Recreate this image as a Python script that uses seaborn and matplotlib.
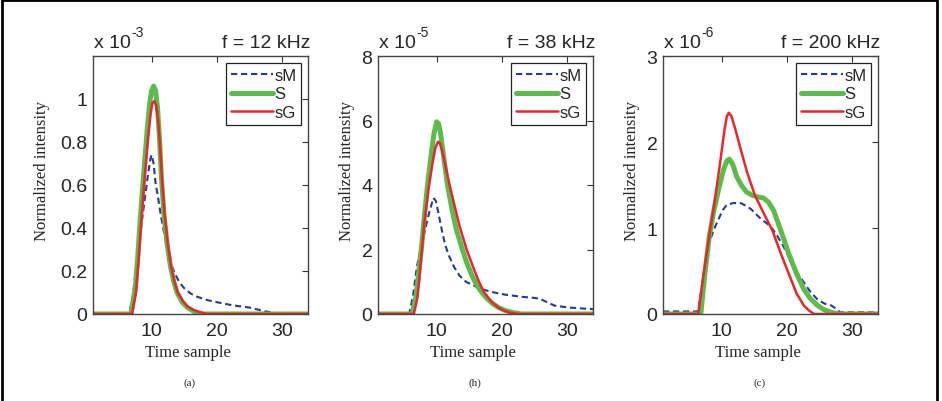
import numpy as np
import seaborn as sns
import matplotlib
matplotlib.use('Agg')
import matplotlib.pyplot as plt
from matplotlib.lines import Line2D

# panel (a), f = 12 kHz, values x 1e-3
a_sM_x = [1, 6.5, 7.0, 7.5, 8.1, 8.8, 9.4, 9.8, 10.0, 10.3, 10.6, 11.0, 11.4, 11.9, 12.4, 13.0, 13.7, 14.3, 15, 16, 17, 18.5, 20, 22.5, 25, 27.5, 30, 34]
a_sM_y = [0, 0, 0.06, 0.18, 0.34, 0.5, 0.64, 0.72, 0.74, 0.7, 0.61, 0.54, 0.46, 0.38, 0.30, 0.23, 0.18, 0.145, 0.12, 0.095, 0.08, 0.065, 0.055, 0.04, 0.03, 0.012, 0, 0]
a_S_x = [1, 6.8, 7.5, 7.9, 8.3, 8.8, 9.3, 9.7, 10.0, 10.3, 10.6, 10.9, 11.2, 11.5, 11.9, 12.4, 12.9, 13.4, 13.9, 14.7, 15.5, 16.5, 17.5, 34]
a_S_y = [0, 0, 0.12, 0.28, 0.46, 0.66, 0.85, 0.98, 1.04, 1.06, 1.04, 0.96, 0.82, 0.64, 0.46, 0.32, 0.22, 0.15, 0.1, 0.055, 0.03, 0.012, 0, 0]
a_sG_x = [1, 7.0, 7.6, 8.0, 8.4, 8.9, 9.4, 9.8, 10.1, 10.4, 10.7, 11.0, 11.3, 11.6, 12.0, 12.5, 13.0, 13.5, 14.0, 14.8, 15.5, 16.5, 17.5, 18.5, 34]
a_sG_y = [0, 0, 0.1, 0.25, 0.42, 0.62, 0.8, 0.92, 0.98, 0.99, 0.97, 0.9, 0.78, 0.62, 0.46, 0.32, 0.22, 0.15, 0.1, 0.06, 0.035, 0.018, 0.008, 0, 0]

# panel (b), f = 38 kHz, values x 1e-5
b_sM_x = [1, 5.8, 6.4, 7.0, 7.6, 8.1, 8.8, 9.5, 9.9, 10.3, 10.8, 11.3, 11.9, 12.7, 13.5, 14.5, 15.7, 16.8, 17.8, 19, 20.5, 23.2, 25.0, 25.9, 27.0, 28.1, 30.3, 34]
b_sM_y = [0, 0, 0.6, 1.5, 2.05, 2.5, 3.1, 3.6, 3.5, 3.1, 2.6, 2.15, 1.8, 1.45, 1.19, 1.0, 0.88, 0.78, 0.72, 0.66, 0.6, 0.53, 0.5, 0.47, 0.36, 0.26, 0.2, 0.15]
b_S_x = [1, 6.2, 6.8, 7.2, 7.7, 8.1, 8.6, 9.2, 9.6, 10.0, 10.3, 10.6, 11.1, 11.6, 12.3, 13.0, 13.8, 14.6, 15.4, 16.2, 17.0, 17.8, 18.6, 19.5, 20.5, 21.6, 23, 34]
b_S_y = [0, 0, 0.5, 1.2, 2.1, 3.0, 4.0, 5.0, 5.6, 5.96, 5.9, 5.6, 4.85, 4.08, 3.3, 2.64, 2.1, 1.6, 1.2, 0.88, 0.65, 0.47, 0.32, 0.2, 0.11, 0.05, 0, 0]
b_sG_x = [1, 6.5, 7.0, 7.3, 7.7, 8.1, 8.7, 9.3, 9.8, 10.2, 10.5, 10.8, 11.3, 11.9, 12.7, 13.5, 14.6, 15.7, 16.5, 17.3, 18.4, 19.5, 20.3, 21.1, 22, 23, 34]
b_sG_y = [0, 0, 0.45, 1.0, 1.9, 2.8, 3.8, 4.6, 5.15, 5.34, 5.3, 5.1, 4.65, 4.08, 3.4, 2.74, 2.0, 1.4, 1.0, 0.67, 0.38, 0.2, 0.11, 0.05, 0.015, 0, 0]

# panel (c), f = 200 kHz, values x 1e-6
c_sM_x = [1, 6.4, 7.2, 8.1, 8.8, 9.5, 10.2, 10.8, 11.8, 12.9, 13.7, 14.5, 15.3, 16.1, 17.0, 17.8, 18.6, 19.4, 20.2, 21, 21.8, 22.6, 23.6, 24.7, 25.8, 26.8, 27.4, 28.2, 34]
c_sM_y = [0.03, 0.03, 0.45, 0.83, 0.98, 1.1, 1.21, 1.27, 1.29, 1.29, 1.26, 1.22, 1.16, 1.1, 1.05, 0.99, 0.9, 0.8, 0.68, 0.56, 0.46, 0.37, 0.26, 0.17, 0.12, 0.1, 0.07, 0.02, 0.02]
c_S_x = [1, 6.8, 7.4, 8.1, 8.8, 9.6, 10.3, 10.8, 11.2, 11.7, 12.3, 13.0, 13.8, 14.7, 15.6, 16.4, 17.2, 18.0, 18.8, 19.6, 20.4, 21.5, 22.6, 23.6, 24.7, 25.7, 26.8, 28, 34]
c_S_y = [0, 0, 0.45, 0.9, 1.2, 1.47, 1.68, 1.78, 1.8, 1.74, 1.6, 1.5, 1.42, 1.38, 1.36, 1.35, 1.3, 1.2, 1.03, 0.86, 0.68, 0.47, 0.29, 0.18, 0.1, 0.05, 0.02, 0, 0]
c_sG_x = [1, 6.4, 7.2, 8.1, 8.9, 9.7, 10.4, 10.8, 11.1, 11.5, 12.1, 12.8, 13.9, 15.1, 16.4, 17.8, 19.1, 20.4, 21.5, 22.6, 23.4, 24.2, 34]
c_sG_y = [0, 0, 0.45, 0.91, 1.3, 1.72, 2.12, 2.3, 2.34, 2.3, 2.15, 1.95, 1.65, 1.38, 1.18, 0.97, 0.7, 0.45, 0.24, 0.1, 0.04, 0, 0]

titles = ['f = 12 kHz', 'f = 38 kHz', 'f = 200 kHz']
exponents = ['-3', '-5', '-6']
panel_tags = ['(a)', '(h)', '(c)']
y_max = [1.2, 8, 3]
y_ticks = [[0, 0.2, 0.4, 0.6, 0.8, 1], [0, 2, 4, 6, 8], [0, 1, 2, 3]]
y_ticklabels = [['0', '0.2', '0.4', '0.6', '0.8', '1'], ['0', '2', '4', '6', '8'], ['0', '1', '2', '3']]
x_ticks = [10, 20, 30]

panels = [
    [(a_sM_x, a_sM_y), (a_S_x, a_S_y), (a_sG_x, a_sG_y)],
    [(b_sM_x, b_sM_y), (b_S_x, b_S_y), (b_sG_x, b_sG_y)],
    [(c_sM_x, c_sM_y), (c_S_x, c_S_y), (c_sG_x, c_sG_y)],
]
names = ['sM', 'S', 'sG']
colors = ['#2a3a8c', '#5dbb4c', '#e8262e']
widths = [1.5, 3.6, 1.8]
styles = [(0, (3, 1.8)), '-', '-']

sns.set_theme(style='white')
plt.rcParams['font.family'] = ['Liberation Sans', 'DejaVu Sans']

fig = plt.figure(figsize=(9.42, 4.02), dpi=100)
lefts = [93, 378, 663]
ylab_x = [-0.2, -0.107, -0.107]
tag_x = [190, 475, 760]

for i in range(3):
    ax = fig.add_axes([lefts[i] / 942, 87 / 402, 215 / 942, 258 / 402])
    for j in range(3):
        xs, ys = panels[i][j]
        sns.lineplot(x=xs, y=ys, ax=ax, color=colors[j], lw=widths[j],
                     linestyle=styles[j], label=names[j], sort=False)
    ax.set_xlim(1, 34)
    ax.set_ylim(0, y_max[i])
    ax.set_xticks(x_ticks)
    ax.set_yticks(y_ticks[i])
    ax.set_yticklabels(y_ticklabels[i])
    ax.tick_params(direction='in', length=4, width=0.8, top=True, right=True,
                   labelsize=14, color='#333333')
    ax.tick_params(axis='x', pad=6)
    ax.tick_params(axis='y', pad=4)
    for sp in ax.spines.values():
        sp.set_color('#444444')
        sp.set_linewidth(1)
    ax.set_ylabel('Normalized intensity', family='Liberation Serif', fontsize=12)
    ax.yaxis.set_label_coords(ylab_x[i], 0.56)
    ax.set_xlabel('Time sample', family='Liberation Serif', fontsize=12)
    ax.xaxis.set_label_coords(0.44, -0.148)
    ax.xaxis.label.set_va('center')
    ax.text(0.005, 1.02, 'x 10', transform=ax.transAxes,
            fontsize=14, ha='left', va='bottom')
    ax.text(0.18, 1.065, exponents[i], transform=ax.transAxes,
            fontsize=10, ha='left', va='bottom')
    ax.text(1.01, 1.02, titles[i], transform=ax.transAxes,
            fontsize=14, ha='right', va='bottom')
    leg = ax.legend(loc='upper right', fontsize=12, handlelength=2.5,
                    borderaxespad=0.4, borderpad=0.3, labelspacing=0.22,
                    handletextpad=0.1, fancybox=False, framealpha=1)
    leg.get_frame().set_edgecolor('#222222')
    leg.get_frame().set_linewidth(0.9)
    fig.text(tag_x[i] / 942, 1 - 383 / 402, panel_tags[i], family='Liberation Serif',
             fontsize=8, ha='center', va='center')

fig.add_artist(Line2D([0.002, 0.002, 0.995, 0.995], [0, 0.998, 0.998, 0],
                      transform=fig.transFigure, color='black', lw=2))

fig.savefig('out.png', dpi=100)
